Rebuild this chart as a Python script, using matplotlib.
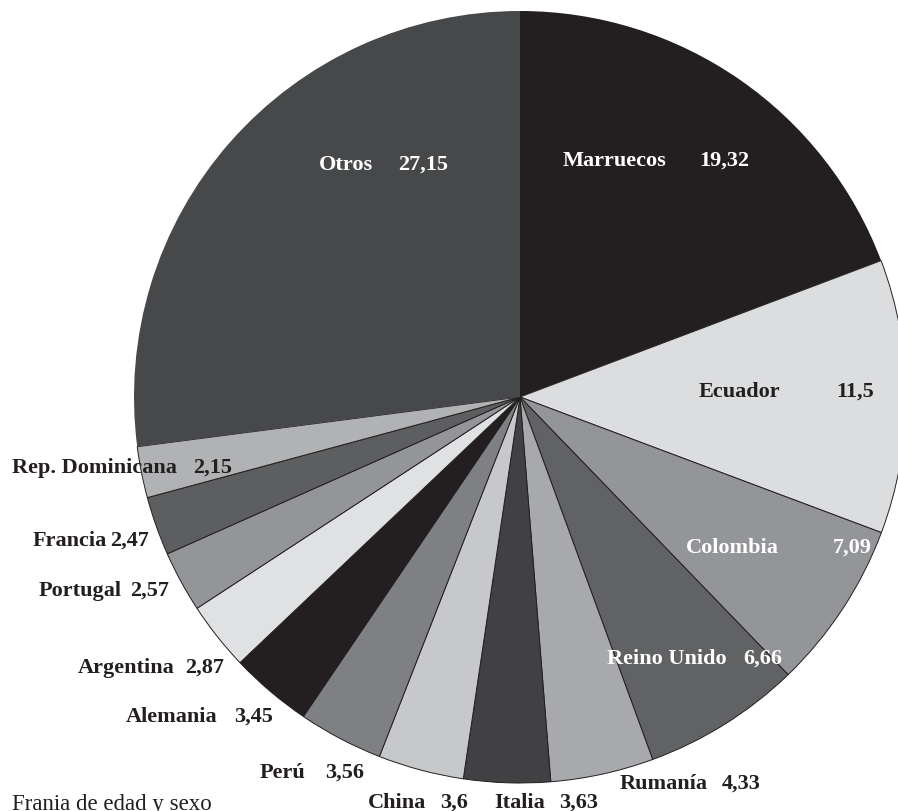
from matplotlib import pyplot as plt

plt.rcParams['font.family'] = ["Liberation Serif", "DejaVu Serif"]

paises = ["Marruecos", "Ecuador", "Colombia", "Reino Unido", "Rumanía", "Italia", "China",
          "Perú", "Alemania", "Argentina", "Portugal", "Francia", "Rep. Dominicana", "Otros"]
valores = [19.32, 11.5, 7.09, 6.66, 4.33, 3.63, 3.6, 3.56, 3.45, 2.87, 2.57, 2.47, 2.15, 27.15]
etiquetas = ["19,32", "11,5", "7,09", "6,66", "4,33", "3,63", "3,6", "3,56", "3,45", "2,87",
             "2,57", "2,47", "2,15", "27,15"]

colores = ["#231f20", "#dcdddf", "#939598", "#616264", "#a7a9ac", "#414042", "#c7c8ca",
           "#7f8083", "#231f20", "#e0e1e3", "#939598", "#5d5e60", "#b0b2b4", "#47484a"]
blanco = ["Marruecos", "Colombia", "Reino Unido", "Otros"]

# posicion de cada rotulo en pixeles: x izq. del nombre, x der. del valor, linea base
pos_rotulos = [(563, 749, 166), (699, 874, 397), (686, 872, 553), (607, 782, 664),
               (620, 761, 789), (494, 598, 808), (368, 468, 808), (260, 364, 778),
               (126, 273, 722), (78, 224, 673), (39, 169, 596), (33, 149, 546),
               (12, 232, 473), (319, 448, 170)]

W, H = 898, 812
fig = plt.figure(figsize=(W / 100, H / 100), dpi=100)
ax = fig.add_axes([0, 0, 1, 1])

cunas, _ = ax.pie(valores, colors=colores, startangle=90, counterclock=False,
                  center=(520, H - 398), radius=386, frame=True,
                  wedgeprops=dict(edgecolor="#231f20", linewidth=0.7))
# el arco superior (Otros y Marruecos) no lleva borde
cunas[0].set_linewidth(0)
cunas[-1].set_linewidth(0)
ax.set_xlim(0, W)
ax.set_ylim(0, H)
ax.set_aspect("equal")
ax.axis("off")

for nombre, etiqueta, (x1, x2, yb) in zip(paises, etiquetas, pos_rotulos):
    c = "white" if nombre in blanco else "#231f20"
    ax.text(x1, H - yb, nombre, ha="left", va="baseline", fontsize=16,
            fontweight="bold", color=c)
    ax.text(x2, H - yb, etiqueta, ha="right", va="baseline", fontsize=16,
            fontweight="bold", color=c)

ax.text(12, H - 810, "Frania de edad y sexo", ha="left", va="baseline",
        fontsize=16.5, color="#231f20")

plt.savefig("out.png", dpi=100)
